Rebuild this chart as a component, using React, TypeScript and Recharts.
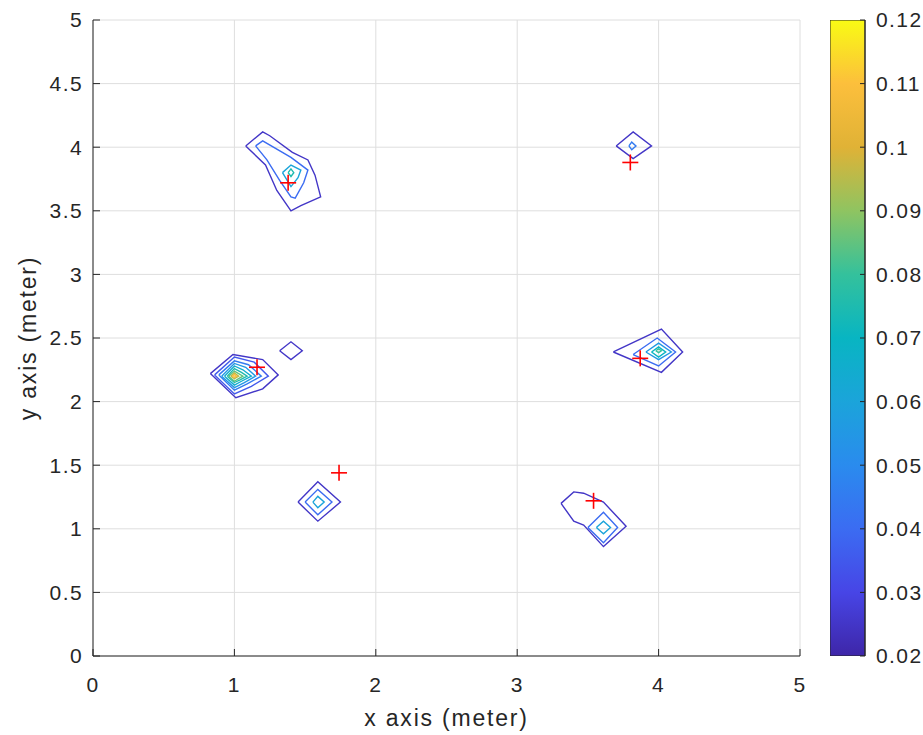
import { ComposedChart, Scatter, XAxis, YAxis, CartesianGrid, BarChart, Bar } from "recharts";

const W = 923;
const H = 735;
const INK = "#262626";
const FONT = "'Liberation Sans', Arial, Helvetica, sans-serif";

// axis ticks
const xTicks = [0, 1, 2, 3, 4, 5];
const yTicks = [0, 0.5, 1, 1.5, 2, 2.5, 3, 3.5, 4, 4.5, 5];
const cbTicks = [0.02, 0.03, 0.04, 0.05, 0.06, 0.07, 0.08, 0.09, 0.1, 0.11, 0.12];

// parula-like colours at each colorbar tick
const cbColors = ["#3e26a8", "#4745e6", "#3b6cf2", "#2a8bee", "#1ba4da", "#08b5c2", "#34c19c", "#8fc461", "#e0b236", "#fcbf3c", "#f9fb14"];

// source positions (red +)
const sources = [
  [1.38, 3.72], [3.8, 3.88], [1.16, 2.27], [3.87, 2.34], [1.74, 1.44], [3.54, 1.22],
];

// contour lines, [level, points]
const topLeft = [
  [0.025, [[1.08, 4.01], [1.2, 4.12], [1.25, 4.09], [1.41, 3.96], [1.52, 3.9], [1.57, 3.78], [1.61, 3.61], [1.47, 3.54], [1.4, 3.5], [1.3, 3.66], [1.22, 3.86]]],
  [0.04, [[1.15, 4.01], [1.2, 4.05], [1.4, 3.92], [1.52, 3.82], [1.49, 3.72], [1.43, 3.6], [1.4, 3.61], [1.32, 3.74], [1.23, 3.9]]],
  [0.06, [[1.34, 3.8], [1.4, 3.86], [1.47, 3.82], [1.45, 3.76], [1.4, 3.69]]],
  [0.075, [[1.38, 3.8], [1.4, 3.83], [1.42, 3.8], [1.4, 3.77]]],
];

const topRight = [
  [0.025, [[3.7, 4.01], [3.82, 4.12], [3.95, 4.01], [3.82, 3.91]]],
  [0.045, [[3.79, 4.01], [3.81, 4.04], [3.84, 4.01], [3.81, 3.98]]],
];

const midLeft = [
  [0.025, [[0.83, 2.22], [0.99, 2.37], [1.2, 2.33], [1.31, 2.21], [1.2, 2.1], [1.01, 2.03]]],
  [0.035, [[0.86, 2.21], [1.0, 2.35], [1.14, 2.31], [1.24, 2.2], [1.12, 2.12], [1.0, 2.06]]],
  [0.045, [[0.89, 2.21], [1.0, 2.32], [1.1, 2.29], [1.19, 2.2], [1.09, 2.14], [1.0, 2.09]]],
  [0.055, [[0.91, 2.2], [1.0, 2.3], [1.08, 2.27], [1.15, 2.2], [1.07, 2.15], [1.0, 2.11]]],
  [0.065, [[0.93, 2.2], [1.0, 2.28], [1.06, 2.25], [1.12, 2.2], [1.05, 2.16], [1.0, 2.13]]],
  [0.075, [[0.95, 2.2], [1.0, 2.26], [1.05, 2.23], [1.09, 2.2], [1.04, 2.17], [1.0, 2.15]]],
  [0.085, [[0.96, 2.2], [1.0, 2.24], [1.03, 2.22], [1.06, 2.2], [1.03, 2.18], [1.0, 2.16]]],
  [0.095, [[0.975, 2.2], [1.0, 2.225], [1.03, 2.2], [1.0, 2.18]]],
  [0.11, [[0.985, 2.2], [1.0, 2.213], [1.015, 2.2], [1.0, 2.19]]],
];

const smallBump = [
  [0.025, [[1.32, 2.4], [1.4, 2.47], [1.48, 2.4], [1.4, 2.33]]],
];

const midRight = [
  [0.025, [[3.68, 2.39], [4.02, 2.57], [4.17, 2.39], [4.02, 2.23]]],
  [0.04, [[3.82, 2.37], [3.99, 2.5], [4.12, 2.39], [4.0, 2.28]]],
  [0.055, [[3.91, 2.39], [4.0, 2.46], [4.09, 2.39], [4.0, 2.33]]],
  [0.07, [[3.95, 2.39], [4.0, 2.43], [4.05, 2.39], [4.0, 2.35]]],
  [0.08, [[3.98, 2.4], [4.0, 2.415], [4.02, 2.4], [4.0, 2.385]]],
];

const lowLeft = [
  [0.025, [[1.45, 1.21], [1.59, 1.37], [1.75, 1.21], [1.59, 1.06]]],
  [0.04, [[1.5, 1.21], [1.59, 1.31], [1.69, 1.21], [1.59, 1.11]]],
  [0.06, [[1.555, 1.21], [1.59, 1.255], [1.635, 1.21], [1.59, 1.165]]],
];

const lowRight = [
  [0.025, [[3.31, 1.2], [3.4, 1.29], [3.47, 1.28], [3.61, 1.21], [3.77, 1.02], [3.61, 0.86], [3.47, 1.03], [3.4, 1.06]]],
  [0.04, [[3.5, 1.01], [3.61, 1.13], [3.71, 1.01], [3.61, 0.89]]],
  [0.06, [[3.56, 1.01], [3.61, 1.06], [3.66, 1.01], [3.61, 0.96]]],
];

const allContours = [...topLeft, ...topRight, ...midLeft, ...smallBump, ...midRight, ...lowLeft, ...lowRight];

function hexToRgb(h: string) {
  return [1, 3, 5].map((i) => parseInt(h.slice(i, i + 2), 16));
}

function levelColor(v: number) {
  const t = Math.max(0, Math.min(1, (v - 0.02) / 0.1)) * (cbColors.length - 1);
  const i = Math.min(Math.floor(t), cbColors.length - 2);
  const f = t - i;
  const a = hexToRgb(cbColors[i]);
  const b = hexToRgb(cbColors[i + 1]);
  const c = a.map((av, k) => Math.round(av + (b[k] - av) * f));
  return `rgb(${c[0]},${c[1]},${c[2]})`;
}

const contourSeries = allContours.map(([level, pts]: any) => ({
  level,
  data: [...pts, pts[0]].map(([x, y]: number[]) => ({ x, y })),
}));

const sourceData = sources.map(([x, y]) => ({ x, y }));
const cbData = [{ name: "cb", range: [0.02, 0.12] }];

const NoDot = () => <g />;

const Plus = (props: any) => {
  const { cx, cy } = props;
  return (
    <g>
      <line x1={cx - 8} y1={cy} x2={cx + 8} y2={cy} stroke="#ff0000" strokeWidth={1.6} />
      <line x1={cx} y1={cy - 8} x2={cx} y2={cy + 8} stroke="#ff0000" strokeWidth={1.6} />
    </g>
  );
};

const tickStyle = { fill: INK, fontSize: 21, fontFamily: FONT, letterSpacing: 1.4 };
const labelStyle = { fill: INK, fontSize: 23, fontFamily: FONT, letterSpacing: 1.8 };

export default function App() {
  return (
    <div style={{ position: "absolute", left: 0, top: 0, width: W, height: H, background: "#fff", fontFamily: FONT, overflow: "hidden" }}>
      <ComposedChart width={W} height={H} margin={{ top: 20, right: 123, bottom: 0, left: 0 }}>
        <CartesianGrid stroke="#dedede" />
        <XAxis
          type="number"
          dataKey="x"
          domain={[0, 5]}
          ticks={xTicks}
          allowDataOverflow
          height={79}
          tickSize={-7}
          tickMargin={28}
          stroke={INK}
          tick={tickStyle}
          label={{ value: "x axis (meter)", position: "insideBottom", offset: 9, ...labelStyle }}
        />
        <XAxis
          xAxisId="top"
          orientation="top"
          type="number"
          domain={[0, 5]}
          ticks={xTicks}
          allowDataOverflow
          height={0}
          tickSize={-7}
          stroke={INK}
          tick={() => <g />}
        />
        <YAxis
          type="number"
          dataKey="y"
          domain={[0, 5]}
          ticks={yTicks}
          allowDataOverflow
          width={93}
          tickSize={-7}
          tickMargin={17}
          stroke={INK}
          tick={tickStyle}
          label={{ value: "y axis (meter)", angle: -90, position: "insideLeft", offset: 28, ...labelStyle, style: { textAnchor: "middle" } }}
        />
        <YAxis
          yAxisId="right"
          orientation="right"
          type="number"
          domain={[0, 5]}
          ticks={yTicks}
          allowDataOverflow
          width={0}
          tickSize={-7}
          stroke={INK}
          tick={() => <g />}
        />
        {contourSeries.map((c, i) => (
          <Scatter
            key={i}
            data={c.data}
            line={{ stroke: levelColor(c.level), strokeWidth: 1.4 }}
            lineJointType="linear"
            shape={NoDot}
            isAnimationActive={false}
          />
        ))}
        <Scatter data={sourceData} shape={Plus} isAnimationActive={false} />
      </ComposedChart>
      <div style={{ position: "absolute", left: 830, top: 0 }}>
        <BarChart width={93} height={H} data={cbData} margin={{ top: 20, right: 0, bottom: 79, left: 0 }} barCategoryGap={0}>
          <defs>
            <linearGradient id="parula" x1="0" y1="1" x2="0" y2="0">
              {cbColors.map((c, i) => (
                <stop key={i} offset={i / (cbColors.length - 1)} stopColor={c} />
              ))}
            </linearGradient>
          </defs>
          <XAxis dataKey="name" hide />
          <YAxis
            orientation="right"
            type="number"
            domain={[0.02, 0.12]}
            ticks={cbTicks}
            allowDataOverflow
            width={58}
            tickSize={-5}
            tickMargin={16}
            stroke={INK}
            tick={{ ...tickStyle, textAnchor: "start" }}
          />
          <Bar dataKey="range" fill="url(#parula)" stroke={INK} strokeWidth={1} isAnimationActive={false} />
        </BarChart>
      </div>
    </div>
  );
}
